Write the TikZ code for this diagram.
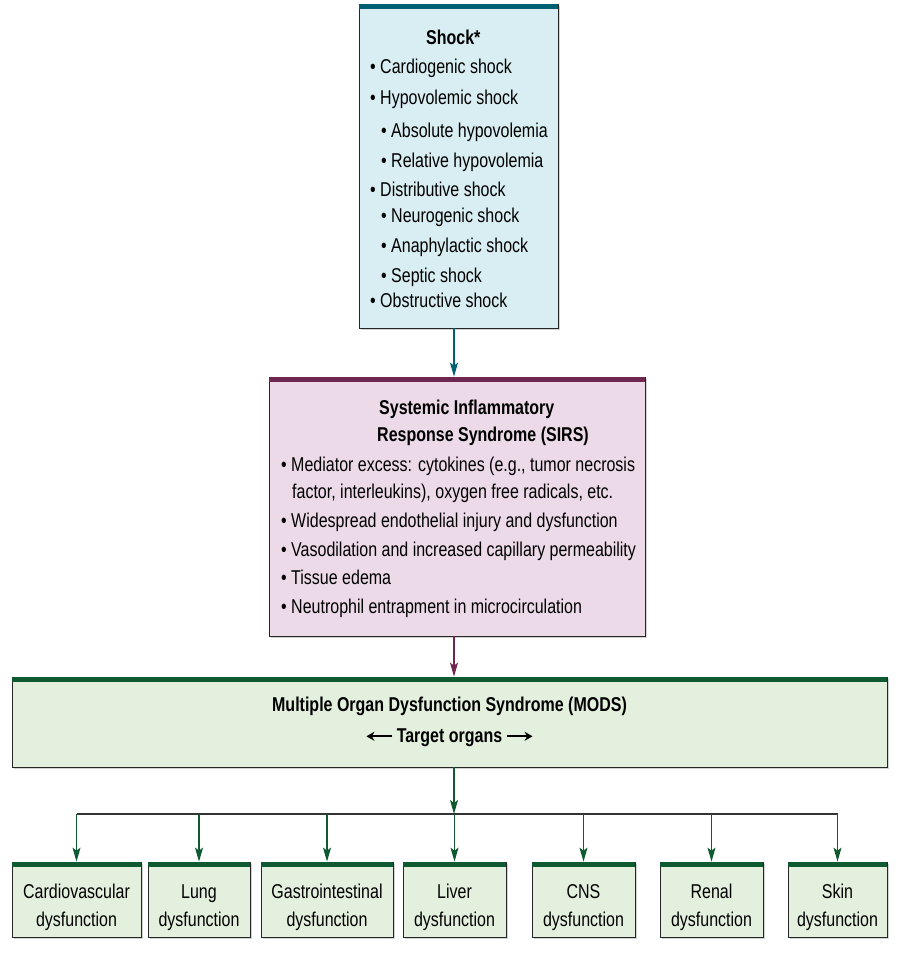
\documentclass[tikz,border=0pt]{standalone}
\usepackage{amsmath}
\usepackage{fontspec}
\setmainfont[FakeStretch=0.8]{Liberation Sans}
\usetikzlibrary{
	positioning,    % posizionamento relativo
	arrows.meta,    % punte di freccia
	shadows
}
\definecolor{shockfill}{RGB}{216,238,242}
\definecolor{shockbar}{RGB}{0,96,115}
\definecolor{sirsfill}{RGB}{236,218,232}
\definecolor{sirsbar}{RGB}{110,40,80}
\definecolor{modsfill}{RGB}{228,240,222}
\definecolor{modsbar}{RGB}{16,90,50}
\newcommand{\frecciatesto}[1]{\tikz[baseline=-0.6ex]\draw[-{Stealth[length=8pt,width=9pt]}, line width=2pt] (0,0) -- (#1,0);}
\begin{document}
\begin{tikzpicture}[
		x=1pt, y=-1pt,
		scatola/.style={draw=black!85, line width=0.8pt, inner sep=0pt,
			drop shadow={shadow xshift=2pt, shadow yshift=-2pt, opacity=0.35}},
		testo/.style={font=\fontsize{20}{30}\selectfont, align=left, anchor=north west, inner sep=0pt},
		organo/.style={scatola, fill=modsfill, minimum height=75pt},
		organotesto/.style={align=center, yshift=-8pt, font=\fontsize{20}{28}\selectfont},
		freccia/.style={-{Stealth[length=14pt, width=8pt, inset=3pt]}, line width=1.2pt}
	]
	\useasboundingbox (0,0) rectangle (902,974);
	
	% --- Shock ---
	\node[scatola, fill=shockfill, minimum width=199pt, minimum height=324pt] (shock) at (458.5,166) {};
	\draw[shockbar, line width=5pt] ([yshift=-2.5pt]shock.north west) -- ([yshift=-2.5pt]shock.north east);
	\node[testo] (shocktxt) at (370,30) {%
		\hspace*{56pt}\textbf{Shock*}\\[-1pt]
		\textbullet\ Cardiogenic shock\\[1pt]
		\textbullet\ Hypovolemic shock\\[3pt]
		\hspace*{11pt}\textbullet\ Absolute hypovolemia\\
		\hspace*{11pt}\textbullet\ Relative hypovolemia\\[-1pt]
		\textbullet\ Distributive shock\\[-4pt]
		\hspace*{11pt}\textbullet\ Neurogenic shock\\
		\hspace*{11pt}\textbullet\ Anaphylactic shock\\
		\hspace*{11pt}\textbullet\ Septic shock\\[-5pt]
		\textbullet\ Obstructive shock};
	
	% --- SIRS ---
	\node[scatola, fill=sirsfill, minimum width=376pt, minimum height=259pt] (sirs) at (457,506.5) {};
	\draw[sirsbar, line width=5pt] ([yshift=-2.5pt]sirs.north west) -- ([yshift=-2.5pt]sirs.north east);
	\node[testo] (sirstxt) at (281,400) {%
		\hspace*{98pt}\textbf{Systemic Inflammatory}\\[-3pt]
		\hspace*{96pt}\textbf{Response Syndrome (SIRS)}\\[0pt]
		\textbullet\ Mediator excess: cytokines (e.g., tumor necrosis\\[-3pt]
		\hspace*{11pt}factor, interleukins), oxygen free radicals, etc.\\[-1pt]
		\textbullet\ Widespread endothelial injury and dysfunction\\[-1pt]
		\textbullet\ Vasodilation and increased capillary permeability\\[-2pt]
		\textbullet\ Tissue edema\\[-1pt]
		\textbullet\ Neutrophil entrapment in microcirculation};
	
	% --- MODS ---
	\node[scatola, fill=modsfill, minimum width=875pt, minimum height=90pt,
		align=center, font=\fontsize{20}{31}\selectfont] (mods) at (449.5,722)
		{\textbf{Multiple Organ Dysfunction Syndrome (MODS)}\\
		\frecciatesto{-26pt}\,\textbf{Target organs}\,\frecciatesto{26pt}};
	\draw[modsbar, line width=5pt] ([yshift=-2.5pt]mods.north west) -- ([yshift=-2.5pt]mods.north east);
	
	% --- Organi ---
	\node[organo, minimum width=129pt, label={[organotesto]center:Cardiovascular\\dysfunction}] (cardio) at (76.5,899.5) {};
	\node[organo, minimum width=102pt, label={[organotesto]center:Lung\\dysfunction}] (lung) at (199,899.5) {};
	\node[organo, minimum width=132pt, label={[organotesto]center:Gastrointestinal\\dysfunction}] (gastro) at (327,899.5) {};
	\node[organo, minimum width=103pt, label={[organotesto]center:Liver\\dysfunction}] (liver) at (454.5,899.5) {};
	\node[organo, minimum width=103pt, label={[organotesto]center:CNS\\dysfunction}] (cns) at (583.5,899.5) {};
	\node[organo, minimum width=103pt, label={[organotesto]center:Renal\\dysfunction}] (renal) at (711.5,899.5) {};
	\node[organo, minimum width=99pt, label={[organotesto]center:Skin\\dysfunction}] (skin) at (837.5,899.5) {};
	\foreach \o in {cardio,lung,gastro,liver,cns,renal,skin}
		\draw[modsbar, line width=5pt] ([yshift=-2.5pt]\o.north west) -- ([yshift=-2.5pt]\o.north east);
	
	% --- Frecce ---
	\coordinate (bus) at (454,814);
	\draw[freccia, shockbar] (shock.south -| bus) -- (sirs.north -| bus);
	\draw[freccia, sirsbar] (sirs.south -| bus) -- (mods.north -| bus);
	\draw[freccia, modsbar] (mods.south -| bus) -- (bus);
	\draw[line width=1.2pt, black!80] (bus -| cardio) -- (bus -| skin);
	\foreach \o in {cardio,lung,gastro,liver,cns,renal,skin}
		\draw[freccia, modsbar] (bus -| \o) -- (\o.north);
\end{tikzpicture}
\end{document}
